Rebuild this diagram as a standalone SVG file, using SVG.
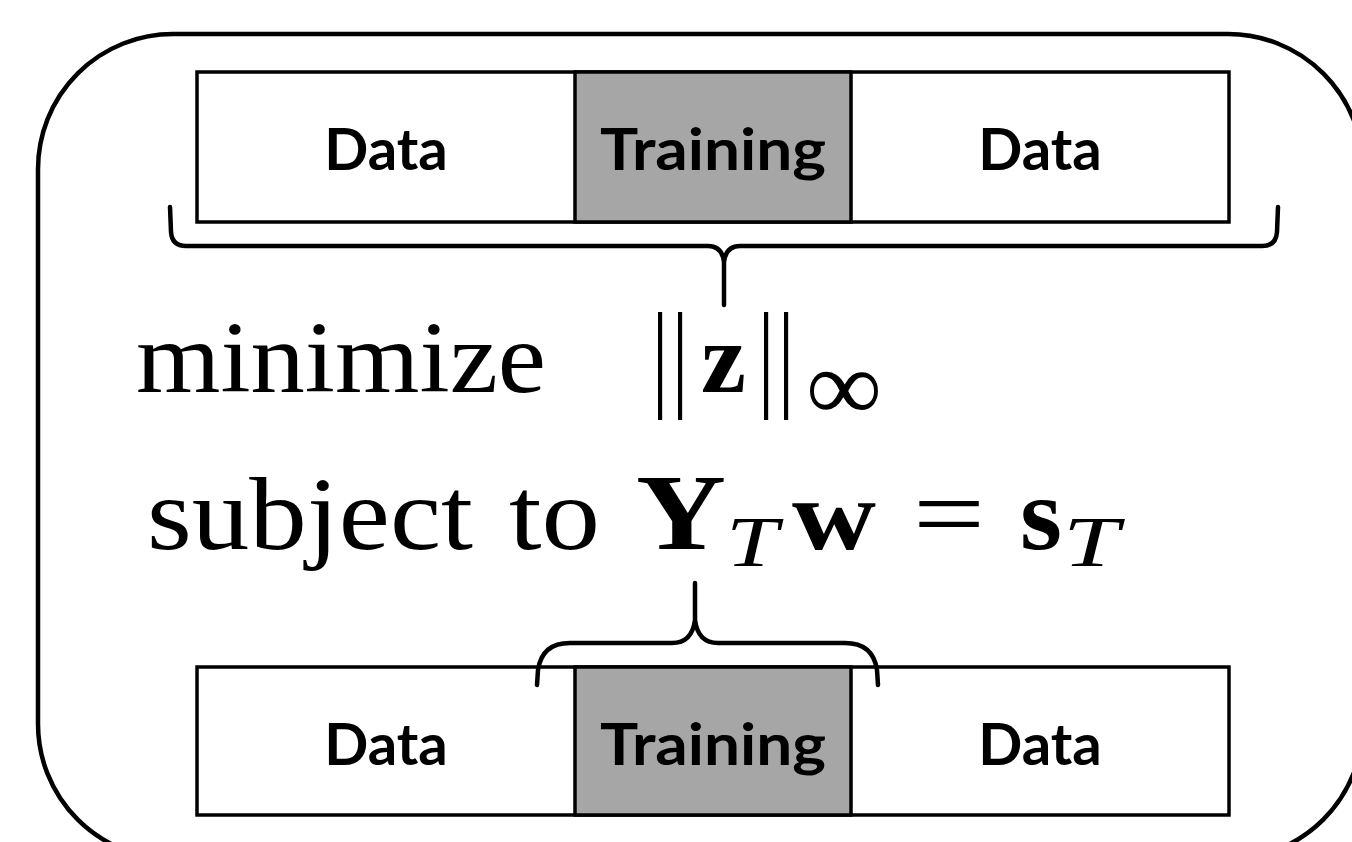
<svg xmlns="http://www.w3.org/2000/svg" width="1352" height="842" viewBox="0 0 1352 842">
<style>
.box{fill:#fff;stroke:#000;stroke-width:3.5}
.tr{fill:#a6a6a6;stroke:#000;stroke-width:3.5}
.lbl{font-family:Lato,"Open Sans",sans-serif;font-weight:bold;font-size:58px;text-anchor:middle;fill:#000}
.brace{fill:none;stroke:#000;stroke-width:4.5;stroke-linecap:round;stroke-linejoin:round}
.m{font-family:"Liberation Serif","DejaVu Serif",serif;fill:#000}
.bar{font-family:"Liberation Serif","DejaVu Serif",serif;font-size:119px;letter-spacing:4.8px;fill:#000}
.b{font-weight:bold}
.i{font-style:italic}
</style>
<rect id="frame" x="38" y="34" width="1325" height="825" rx="135" ry="135" fill="none" stroke="#000" stroke-width="4.5"/>
<g id="top-bar">
<rect class="box" x="197" y="72" width="1032" height="150"/>
<rect class="tr" x="575" y="72" width="276" height="150"/>
<text class="lbl" x="386" y="170">Data</text>
<text class="lbl" x="713" y="170" textLength="226" lengthAdjust="spacingAndGlyphs">Training</text>
<text class="lbl" x="1040" y="170">Data</text>
</g>
<g id="bottom-bar">
<rect class="box" x="197" y="667" width="1032" height="148"/>
<rect class="tr" x="575" y="667" width="276" height="148"/>
<text class="lbl" x="386" y="765">Data</text>
<text class="lbl" x="713" y="765" textLength="226" lengthAdjust="spacingAndGlyphs">Training</text>
<text class="lbl" x="1040" y="765">Data</text>
</g>
<g id="connectors">
<path class="brace" d="M170,207 L171,232 Q172,246 186,246 L708,246 Q722,246 724,262 L724,305 M724,262 Q726,246 740,246 L1262,246 Q1276,246 1277,232 L1278,207"/>
<path class="brace" d="M537,685 L538,670 Q542,643 570,643 L672,643 Q692,643 695,620 L695,583 M695,620 Q698,643 718,643 L845,643 Q873,643 877,670 L878,685"/>
</g>
<g id="objective">
<text class="m" x="136" y="392" font-size="102" textLength="410" lengthAdjust="spacingAndGlyphs">minimize</text>
<text class="bar" transform="translate(660,395) scale(0.7,1)" x="-11.9" y="0">||</text>
<text class="m b" x="701" y="392" font-size="100" textLength="45" lengthAdjust="spacingAndGlyphs">z</text>
<text class="bar" transform="translate(766,395) scale(0.7,1)" x="-11.9" y="0">||</text>
<text class="m" x="806" y="420" font-size="100" textLength="76" lengthAdjust="spacingAndGlyphs">∞</text>
</g>
<g id="constraint">
<text class="m" x="147" y="549" font-size="104" textLength="326" lengthAdjust="spacingAndGlyphs">subject</text>
<text class="m" x="509" y="549" font-size="104" textLength="91" lengthAdjust="spacingAndGlyphs">to</text>
<text class="m b" x="636" y="549" font-size="109" textLength="90" lengthAdjust="spacingAndGlyphs">Y</text>
<text class="m i" x="726" y="566" font-size="72" textLength="52" lengthAdjust="spacingAndGlyphs">T</text>
<text class="m b" x="792" y="549" font-size="100" textLength="84" lengthAdjust="spacingAndGlyphs">w</text>
<text class="m" x="913" y="549" font-size="104" textLength="72" lengthAdjust="spacingAndGlyphs">=</text>
<text class="m b" x="1020" y="549" font-size="104" textLength="42" lengthAdjust="spacingAndGlyphs">s</text>
<text class="m i" x="1063" y="566" font-size="72" textLength="56" lengthAdjust="spacingAndGlyphs">T</text>
</g>
</svg>
